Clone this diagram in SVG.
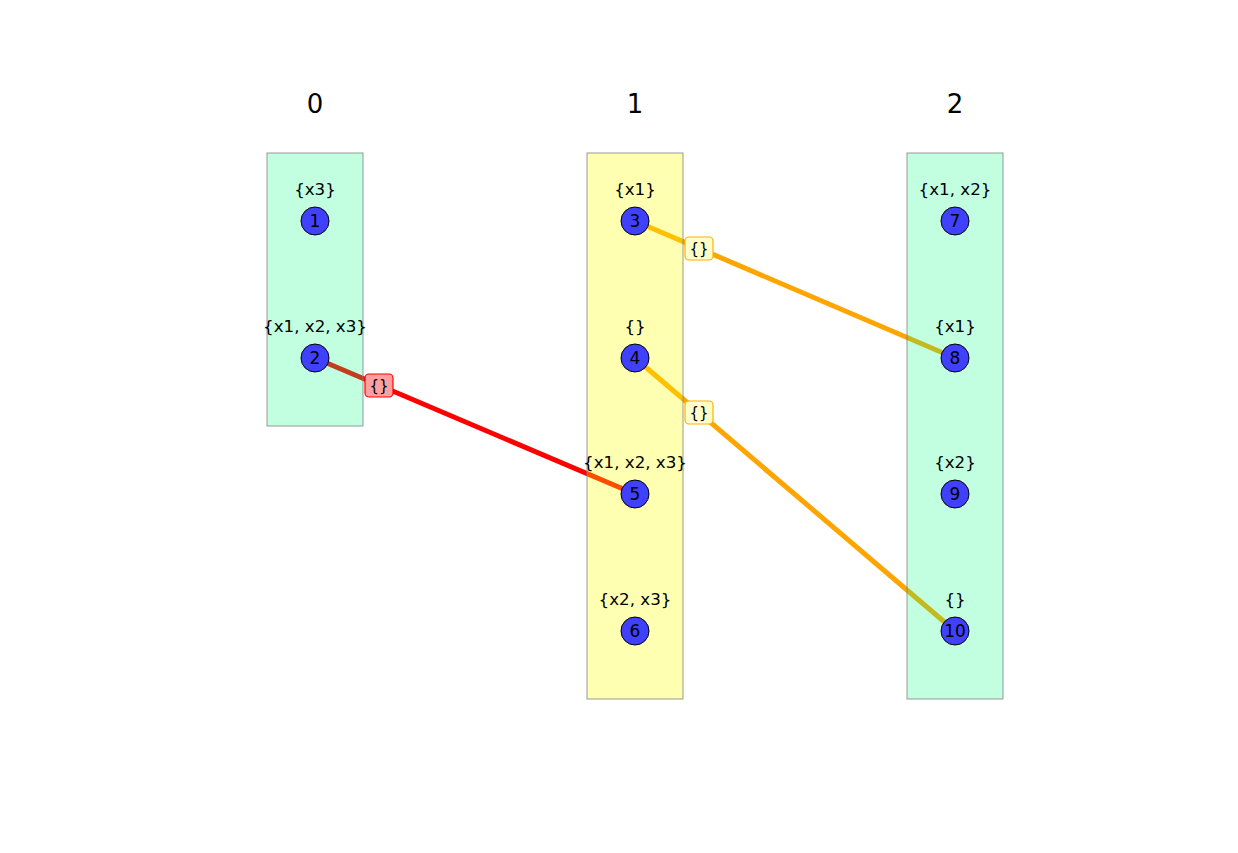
<svg xmlns="http://www.w3.org/2000/svg" width="1238" height="853" viewBox="0 0 1238 853">
<style>
text{font-family:"DejaVu Sans","Liberation Sans",sans-serif;fill:#000;text-anchor:middle}
.hdr{font-size:26px}
.lbl{font-size:16.7px}
.num{font-size:17px}
.col{stroke:#808080;stroke-opacity:0.8;stroke-width:1}
.teal{fill:#00ff80;fill-opacity:0.24}
.yel{fill:#ffff00;fill-opacity:0.3}
.node{fill:#4040ff;stroke:#000;stroke-width:1}
.e{stroke-width:5;fill:none}
.elbl{font-size:15px}
</style>
<rect width="1238" height="853" fill="#fff"/>
<g id="connectors">
<line class="e" x1="315" y1="358" x2="635" y2="494" stroke="#ff0000"/>
<line class="e" x1="635" y1="221" x2="955" y2="358" stroke="#ffa500"/>
<line class="e" x1="635" y1="358" x2="955" y2="631" stroke="#ffa500"/>
</g>
<g id="columns">
<g id="col0"><rect class="col teal" x="267" y="153" width="96" height="273"/><text class="hdr" x="315" y="113">0</text></g>
<g id="col1"><rect class="col yel" x="587" y="153" width="96" height="546"/><text class="hdr" x="635" y="113">1</text></g>
<g id="col2"><rect class="col teal" x="907" y="153" width="96" height="546"/><text class="hdr" x="955" y="113">2</text></g>
</g>
<g id="edge-labels">
<g id="el-2-5"><rect x="365" y="374" width="28" height="23" rx="4" fill="#ffa0a0" stroke="#ff0000" stroke-width="1.2"/><text class="elbl" x="379" y="391">{}</text></g>
<g id="el-3-8"><rect x="685" y="237" width="28" height="23" rx="4" fill="#ffffc8" stroke="#ffb000" stroke-width="1.2"/><text class="elbl" x="699" y="254">{}</text></g>
<g id="el-4-10"><rect x="685" y="401" width="28" height="23" rx="4" fill="#ffffc8" stroke="#ffb000" stroke-width="1.2"/><text class="elbl" x="699" y="418">{}</text></g>
</g>
<g id="n1"><text class="lbl" x="315" y="195">{x3}</text><circle class="node" cx="315" cy="221" r="14"/><text class="num" x="315" y="227">1</text></g>
<g id="n2"><text class="lbl" x="315" y="332">{x1, x2, x3}</text><circle class="node" cx="315" cy="358" r="14"/><text class="num" x="315" y="364">2</text></g>
<g id="n3"><text class="lbl" x="635" y="195">{x1}</text><circle class="node" cx="635" cy="221" r="14"/><text class="num" x="635" y="227">3</text></g>
<g id="n4"><text class="lbl" x="635" y="332">{}</text><circle class="node" cx="635" cy="358" r="14"/><text class="num" x="635" y="364">4</text></g>
<g id="n5"><text class="lbl" x="635" y="468">{x1, x2, x3}</text><circle class="node" cx="635" cy="494" r="14"/><text class="num" x="635" y="500">5</text></g>
<g id="n6"><text class="lbl" x="635" y="605">{x2, x3}</text><circle class="node" cx="635" cy="631" r="14"/><text class="num" x="635" y="637">6</text></g>
<g id="n7"><text class="lbl" x="955" y="195">{x1, x2}</text><circle class="node" cx="955" cy="221" r="14"/><text class="num" x="955" y="227">7</text></g>
<g id="n8"><text class="lbl" x="955" y="332">{x1}</text><circle class="node" cx="955" cy="358" r="14"/><text class="num" x="955" y="364">8</text></g>
<g id="n9"><text class="lbl" x="955" y="468">{x2}</text><circle class="node" cx="955" cy="494" r="14"/><text class="num" x="955" y="500">9</text></g>
<g id="n10"><text class="lbl" x="955" y="605">{}</text><circle class="node" cx="955" cy="631" r="14"/><text class="num" x="955" y="637">10</text></g>
</svg>
